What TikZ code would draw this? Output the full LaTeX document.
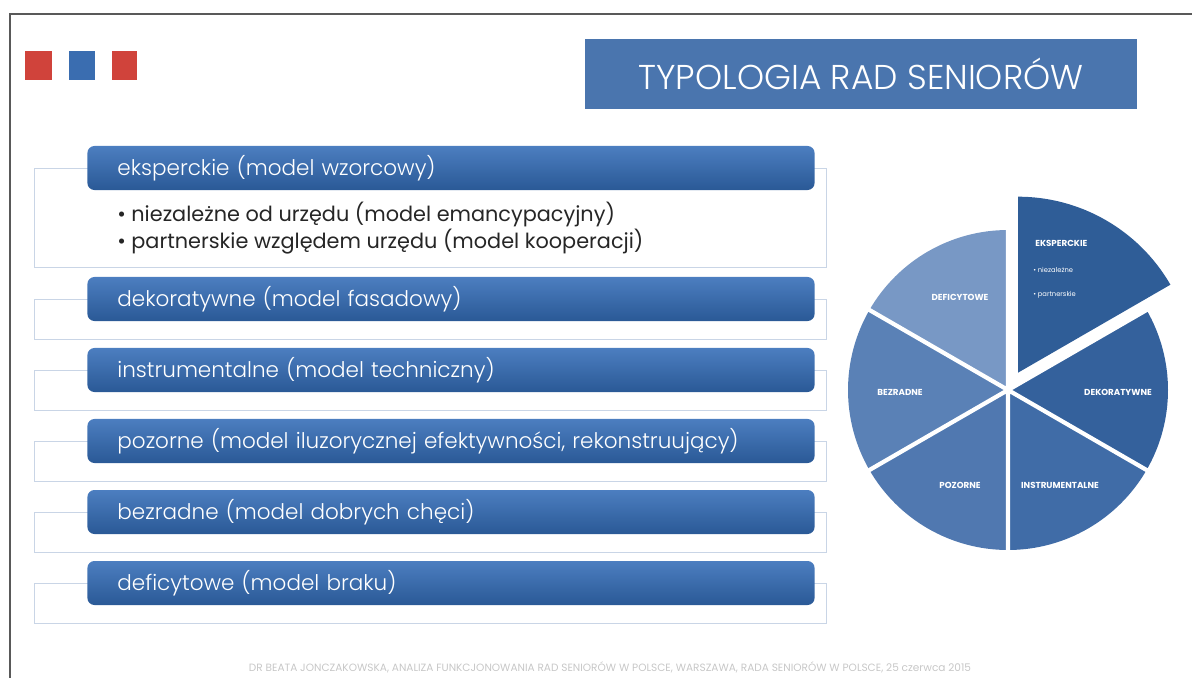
\documentclass[tikz,border=0pt]{standalone}
\usepackage{fontspec}
\setmainfont{Poppins}
\newfontfamily\thinfont{Poppins}[UprightFont=* Light]
\definecolor{slideblue}{HTML}{4A75AE}
\definecolor{barhi}{HTML}{4C7EC0}
\definecolor{barlo}{HTML}{2A5996}
\definecolor{sqred}{HTML}{D0433B}
\definecolor{sqblue}{HTML}{3A6DB0}
\definecolor{outl}{HTML}{C9D5E6}
\definecolor{pieA}{HTML}{2F5D97}
\definecolor{pieB}{HTML}{34619C}
\definecolor{pieC}{HTML}{406CA7}
\definecolor{pieD}{HTML}{5078B0}
\definecolor{pieE}{HTML}{5A81B6}
\definecolor{pieF}{HTML}{7898C5}
\begin{document}
\begin{tikzpicture}[x=0.025cm,y=-0.025cm,
    bar/.style={rounded corners=5pt, top color=barhi, bottom color=barlo, draw=none,
      minimum height=1.1cm, text width=16.675cm, inner xsep=0.75cm, inner ysep=0pt,
      align=left, text=white, font=\thinfont\fontsize{15.3}{17}\selectfont},
    itembox/.style={draw=outl, line width=0.5pt},
    bullet/.style={anchor=west, inner sep=0pt, font=\fontsize{14.8}{16}\selectfont, text=black!85},
    slice/.style={font=\bfseries\fontsize{6.2}{7}\selectfont, text=white, inner sep=0pt}]
  \useasboundingbox (0,0) rectangle (1192,678);

  % frame of the slide
  \draw[black!65, line width=1.4pt] (10,678) -- (10,14) -- (1192,14);

  \fill[sqred] (25,51) rectangle (52,80);
  \fill[sqblue] (69,51) rectangle (95,80);
  \fill[sqred] (112,51) rectangle (137,80);

  \node[fill=slideblue, minimum width=13.8cm, minimum height=1.75cm, text=white,
    font=\thinfont\fontsize{24.5}{28}\selectfont] (title) at (861,74) {TYPOLOGIA RAD SENIORÓW};

  \draw[itembox] (34,168) rectangle (826,267);
  \draw[itembox] (34,299) rectangle (826,339);
  \draw[itembox] (34,370) rectangle (826,410);
  \draw[itembox] (34,441) rectangle (826,481);
  \draw[itembox] (34,512) rectangle (826,552);
  \draw[itembox] (34,583) rectangle (826,623);

  \node[bar] (eksp) at (451,168) {eksperckie (model wzorcowy)};
  \node[bar] (dekor) at (451,299) {dekoratywne (model fasadowy)};
  \node[bar] (instr) at (451,370) {instrumentalne (model techniczny)};
  \node[bar] (pozor) at (451,441) {pozorne (model iluzorycznej efektywności, rekonstruujący)};
  \node[bar] (bezr) at (451,512) {bezradne (model dobrych chęci)};
  \node[bar] (defic) at (451,583) {deficytowe (model braku)};

  \node[bullet] (niez) at (117,214) {• niezależne od urzędu (model emancypacyjny)};
  \node[bullet] (partn) at (117,242) {• partnerskie względem urzędu (model kooperacji)};

  % pie
  \begin{scope}[shift={(1008,390)}, y=0.025cm]
    \fill[pieB] (0,0) -- (-30:160) arc[start angle=-30, end angle=30, radius=160] -- cycle;
    \fill[pieC] (0,0) -- (-90:160) arc[start angle=-90, end angle=-30, radius=160] -- cycle;
    \fill[pieD] (0,0) -- (210:160) arc[start angle=210, end angle=270, radius=160] -- cycle;
    \fill[pieE] (0,0) -- (150:160) arc[start angle=150, end angle=210, radius=160] -- cycle;
    \fill[pieF] (0,0) -- (90:160) arc[start angle=90, end angle=150, radius=160] -- cycle;
    \draw[white, line width=3pt] (0,0) -- (150:165) (0,0) -- (210:165)
      (0,0) -- (270:165) (0,0) -- (330:165) (0,0) -- (30:165) (0,0) -- (90:165);
    \fill[pieA, shift={(60:20)}] (0,0) -- (30:176) arc[start angle=30, end angle=90, radius=176] -- cycle;

    \node[slice, anchor=west] (seksp) at (27,147) {EKSPERCKIE};
    \node[slice, anchor=west, font=\fontsize{4.8}{5}\selectfont] (sniez) at (25,120) {• niezależne};
    \node[slice, anchor=west, font=\fontsize{4.8}{5}\selectfont] (spartn) at (25,95) {• partnerskie};
    \node[slice] (sdefic) at (-48,93) {DEFICYTOWE};
    \node[slice] (sbezr) at (-108,-2) {BEZRADNE};
    \node[slice] (sdekor) at (110,-2) {DEKORATYWNE};
    \node[slice] (spozor) at (-48,-95) {POZORNE};
    \node[slice] (sinstr) at (52,-95) {INSTRUMENTALNE};
  \end{scope}

  \node[text=black!22, font=\fontsize{7.5}{8}\selectfont] (foot) at (610,667)
    {DR BEATA JONCZAKOWSKA, ANALIZA FUNKCJONOWANIA RAD SENIORÓW W POLSCE, WARSZAWA, RADA SENIORÓW W POLSCE, 25 czerwca 2015};
\end{tikzpicture}
\end{document}
